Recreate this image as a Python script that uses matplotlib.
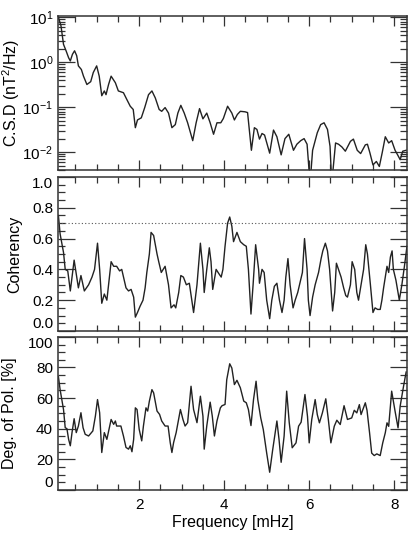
import matplotlib
matplotlib.use("Agg")
import matplotlib.pyplot as plt
from matplotlib.ticker import MultipleLocator, LogLocator, NullFormatter, FormatStrFormatter

plt.rcParams["font.family"] = ["Liberation Sans", "DejaVu Sans"]
plt.rcParams["mathtext.fontset"] = "custom"
plt.rcParams["mathtext.rm"] = "Liberation Sans"
plt.rcParams["mathtext.it"] = "Liberation Sans"

# cross spectral density (nT^2/Hz)
freq_csd = [0.10, 0.16, 0.22, 0.28, 0.34, 0.38, 0.43, 0.48, 0.53, 0.57, 0.64, 0.69, 0.77,
            0.86, 0.92, 1.00, 1.06, 1.12, 1.18, 1.22, 1.28, 1.34, 1.44, 1.51, 1.63, 1.71,
            1.79, 1.86, 1.91, 1.96, 2.05, 2.13, 2.22, 2.30, 2.38, 2.47, 2.53, 2.61, 2.69,
            2.77, 2.85, 2.91, 2.98, 3.06, 3.14, 3.26, 3.34, 3.42, 3.50, 3.59, 3.67, 3.75,
            3.83, 3.92, 3.98, 4.08, 4.18, 4.24, 4.31, 4.38, 4.49, 4.55, 4.64, 4.71, 4.77,
            4.83, 4.89, 4.95, 5.07, 5.16, 5.24, 5.34, 5.43, 5.52, 5.63, 5.71, 5.80, 5.88,
            5.95, 6.02, 6.08, 6.19, 6.27, 6.35, 6.43, 6.49, 6.53, 6.62, 6.69, 6.77, 6.85,
            6.97, 7.04, 7.13, 7.21, 7.32, 7.37, 7.43, 7.50, 7.58, 7.65, 7.72, 7.79, 7.87,
            7.94, 8.02, 8.08, 8.14, 8.20, 8.28]
csd = [10.0, 6.5, 2.5, 1.8, 1.26, 1.07, 1.5, 1.8, 1.4, 0.83, 0.69, 0.49, 0.32,
       0.37, 0.59, 0.83, 0.49, 0.18, 0.23, 0.19, 0.32, 0.49, 0.35, 0.23, 0.21, 0.148,
       0.105, 0.089, 0.035, 0.052, 0.058, 0.098, 0.19, 0.23, 0.16, 0.089, 0.081, 0.098, 0.074,
       0.035, 0.041, 0.074, 0.11, 0.074, 0.045, 0.018, 0.045, 0.093, 0.055, 0.074, 0.045, 0.025,
       0.045, 0.045, 0.056, 0.105, 0.074, 0.052, 0.069, 0.081, 0.079, 0.076, 0.011, 0.035, 0.032,
       0.0195, 0.026, 0.024, 0.0095, 0.031, 0.022, 0.0087, 0.020, 0.025, 0.011, 0.015, 0.018, 0.020,
       0.015, 0.002, 0.011, 0.027, 0.041, 0.045, 0.032, 0.0135, 0.002, 0.016, 0.015, 0.013, 0.0105,
       0.0174, 0.0195, 0.011, 0.0093, 0.0145, 0.015, 0.0095, 0.0052, 0.0062, 0.0048, 0.010, 0.022, 0.016,
       0.018, 0.011, 0.0087, 0.0068, 0.0105, 0.011]

# coherency
freq_coh = [0.10, 0.14, 0.22, 0.26, 0.32, 0.38, 0.47, 0.52, 0.57, 0.63, 0.71, 0.81, 0.89,
            0.95, 1.02, 1.07, 1.12, 1.18, 1.24, 1.34, 1.40, 1.47, 1.54, 1.59, 1.69, 1.75,
            1.81, 1.87, 1.91, 1.96, 2.02, 2.09, 2.14, 2.18, 2.24, 2.28, 2.34, 2.42, 2.46,
            2.52, 2.61, 2.69, 2.75, 2.82, 2.86, 2.93, 2.98, 3.04, 3.11, 3.18, 3.28, 3.36,
            3.44, 3.50, 3.53, 3.59, 3.65, 3.69, 3.73, 3.81, 3.88, 3.93, 3.97, 4.02, 4.08,
            4.13, 4.18, 4.22, 4.30, 4.38, 4.46, 4.52, 4.57, 4.63, 4.68, 4.74, 4.81, 4.83,
            4.89, 4.94, 5.00, 5.07, 5.12, 5.18, 5.24, 5.30, 5.36, 5.41, 5.45, 5.50, 5.55,
            5.62, 5.67, 5.73, 5.79, 5.84, 5.89, 5.95, 5.98, 6.02, 6.08, 6.14, 6.22, 6.28,
            6.32, 6.38, 6.43, 6.48, 6.52, 6.55, 6.60, 6.64, 6.69, 6.75, 6.81, 6.86, 6.90,
            6.97, 7.01, 7.07, 7.12, 7.16, 7.22, 7.28, 7.33, 7.37, 7.44, 7.50, 7.55, 7.61,
            7.67, 7.71, 7.75, 7.79, 7.83, 7.87, 7.91, 7.95, 7.98, 8.04, 8.12, 8.18, 8.24,
            8.30]
coherency = [0.75, 0.63, 0.51, 0.40, 0.39, 0.26, 0.46, 0.37, 0.28, 0.36, 0.26, 0.30, 0.35,
             0.40, 0.57, 0.40, 0.18, 0.24, 0.20, 0.45, 0.42, 0.42, 0.39, 0.40, 0.28, 0.26,
             0.27, 0.22, 0.09, 0.12, 0.16, 0.20, 0.28, 0.38, 0.50, 0.64, 0.62, 0.50, 0.45,
             0.38, 0.42, 0.30, 0.15, 0.17, 0.15, 0.25, 0.36, 0.35, 0.30, 0.31, 0.12, 0.30,
             0.57, 0.40, 0.25, 0.40, 0.54, 0.45, 0.27, 0.40, 0.37, 0.35, 0.40, 0.55, 0.70,
             0.74, 0.68, 0.58, 0.64, 0.58, 0.56, 0.55, 0.40, 0.11, 0.30, 0.56, 0.40, 0.31,
             0.40, 0.38, 0.20, 0.08, 0.20, 0.29, 0.31, 0.20, 0.12, 0.20, 0.35, 0.47, 0.30,
             0.15, 0.20, 0.25, 0.32, 0.38, 0.60, 0.40, 0.20, 0.10, 0.22, 0.30, 0.38, 0.47,
             0.52, 0.57, 0.52, 0.40, 0.25, 0.13, 0.25, 0.44, 0.40, 0.35, 0.28, 0.23, 0.22,
             0.30, 0.45, 0.40, 0.25, 0.20, 0.30, 0.40, 0.56, 0.50, 0.30, 0.12, 0.15, 0.14,
             0.14, 0.20, 0.28, 0.35, 0.42, 0.38, 0.48, 0.52, 0.40, 0.33, 0.20, 0.30, 0.42,
             0.55]
coh_level = 0.7

# degree of polarization (%)
freq_pol = [0.10, 0.14, 0.22, 0.26, 0.30, 0.34, 0.38, 0.42, 0.47, 0.52, 0.57, 0.63, 0.68,
            0.73, 0.81, 0.91, 0.97, 1.02, 1.07, 1.12, 1.18, 1.24, 1.34, 1.40, 1.44, 1.47,
            1.57, 1.63, 1.69, 1.75, 1.79, 1.83, 1.87, 1.91, 1.95, 2.00, 2.06, 2.10, 2.16,
            2.20, 2.24, 2.30, 2.34, 2.42, 2.48, 2.53, 2.61, 2.68, 2.73, 2.77, 2.81, 2.87,
            2.97, 3.03, 3.08, 3.14, 3.22, 3.28, 3.36, 3.44, 3.50, 3.53, 3.59, 3.67, 3.72,
            3.77, 3.83, 3.91, 3.95, 4.02, 4.06, 4.13, 4.18, 4.24, 4.30, 4.38, 4.46, 4.52,
            4.57, 4.63, 4.69, 4.75, 4.79, 4.86, 4.92, 5.00, 5.07, 5.14, 5.24, 5.29, 5.34,
            5.41, 5.47, 5.53, 5.60, 5.69, 5.75, 5.81, 5.90, 5.96, 6.00, 6.06, 6.14, 6.19,
            6.24, 6.31, 6.39, 6.45, 6.51, 6.59, 6.65, 6.73, 6.82, 6.90, 7.00, 7.06, 7.12,
            7.18, 7.22, 7.32, 7.36, 7.42, 7.47, 7.53, 7.59, 7.67, 7.73, 7.79, 7.83, 7.87,
            7.94, 8.02, 8.09, 8.14, 8.22, 8.28]
polarization = [74, 65.5, 52.5, 40.6, 40, 33, 28.8, 37.4, 46.5, 37.4, 41.7, 50.4, 40.6,
                36.3, 35.2, 38.5, 48.2, 59, 50.4, 24.4, 37.4, 33, 46, 42.8, 45, 41.7,
                41.7, 35.2, 27.7, 26.6, 28.8, 24.9, 33, 53.6, 52.5, 39.6, 32, 41.7, 53.6,
                51.5, 58, 65.5, 63.4, 51.5, 49.3, 45, 41.7, 41.7, 30.9, 24.4, 30.9, 37.4,
                52.5, 46, 41.7, 43.9, 67.7, 52.5, 43.9, 61.2, 48.2, 26.6, 41.7, 57.3, 48.2,
                35.2, 45, 53.6, 55, 55.8, 72, 82.4, 79.6, 68.8, 71.6, 66.7, 58, 56.9,
                52.5, 42, 59, 71, 59, 47, 39.4, 24, 11.5, 26, 45, 33, 18,
                35.2, 64.5, 44, 27.5, 30.7, 41.6, 44.2, 62.3, 48, 30.7, 46, 59, 49.2,
                43.8, 50.3, 59.5, 46, 30.7, 41.6, 45.5, 42.7, 55, 46, 47, 52, 50.3,
                55.7, 49.2, 56.9, 52, 37.3, 24, 22.4, 23.5, 22.4, 30.7, 37.3, 43.8, 41.5,
                64.5, 51.4, 40.5, 54.7, 67.8, 77]

line_col = "#222222"
frame_col = "#333333"


def style_axis(ax):
    ax.set_xlim(0.09, 8.3)
    ax.xaxis.set_major_locator(MultipleLocator(2))
    ax.xaxis.set_minor_locator(MultipleLocator(0.5))
    ax.tick_params(which="both", direction="in", top=True, right=True,
                   color=frame_col, labelsize=11, width=0.9)
    ax.tick_params(which="major", axis="y", length=12)
    ax.tick_params(which="minor", axis="y", length=5)
    ax.tick_params(which="major", axis="x", length=7, pad=6)
    ax.tick_params(which="minor", axis="x", length=4)
    for s in ax.spines.values():
        s.set_color(frame_col)
        s.set_linewidth(1.1)


def nudge_end_labels(ax):
    # keep the end labels inside the panel, as in the original
    labels = ax.get_yticklabels()
    ymin, ymax = ax.get_ylim()
    for tick, lab in zip(ax.get_yticks(), labels):
        if abs(tick - ymin) < 1e-9 * max(1, abs(ymax)):
            lab.set_va("bottom")
        elif abs(tick - ymax) < 1e-9 * max(1, abs(ymax)):
            lab.set_va("top")


fig = plt.figure(figsize=(4.13, 5.33), dpi=100)
ax1 = fig.add_axes([0.1404, 0.681, 0.845, 0.289])
ax2 = fig.add_axes([0.1404, 0.379, 0.845, 0.289])
ax3 = fig.add_axes([0.1404, 0.081, 0.845, 0.287])

ax1.plot(freq_csd, csd, color=line_col, lw=1.0)
ax1.set_yscale("log")
ax1.set_ylim(0.004, 10.7)
ax1.yaxis.set_major_locator(LogLocator(base=10, numticks=10))
ax1.yaxis.set_minor_locator(LogLocator(base=10, subs=range(2, 10), numticks=20))
ax1.yaxis.set_minor_formatter(NullFormatter())
style_axis(ax1)
ax1.set_xticklabels([])
ax1.set_ylabel("C.S.D (nT$^2$/Hz)", fontsize=11.5)
ax1.yaxis.set_label_coords(-0.103, 0.5)

ax2.plot(freq_coh, coherency, color=line_col, lw=1.0)
ax2.axhline(coh_level, color="#555555", lw=0.8, ls=(0, (1, 2)))
ax2.set_ylim(0, 1)
ax2.yaxis.set_major_locator(MultipleLocator(0.2))
ax2.yaxis.set_minor_locator(MultipleLocator(0.05))
ax2.yaxis.set_major_formatter(FormatStrFormatter("%.1f"))
style_axis(ax2)
ax2.set_xticklabels([])
ax2.set_ylabel("Coherency", fontsize=11.5)
ax2.yaxis.set_label_coords(-0.103, 0.5)

ax3.plot(freq_pol, polarization, color=line_col, lw=1.0)
ax3.set_ylim(0, 100)
ax3.yaxis.set_major_locator(MultipleLocator(20))
ax3.yaxis.set_minor_locator(MultipleLocator(5))
style_axis(ax3)
ax3.set_ylabel("Deg. of Pol. [%]", fontsize=11.5)
ax3.yaxis.set_label_coords(-0.1175, 0.5)
ax3.set_xlabel("Frequency [mHz]", fontsize=11.5, labelpad=2)

fig.canvas.draw()
nudge_end_labels(ax2)
nudge_end_labels(ax3)

fig.savefig("out.png", dpi=100)
